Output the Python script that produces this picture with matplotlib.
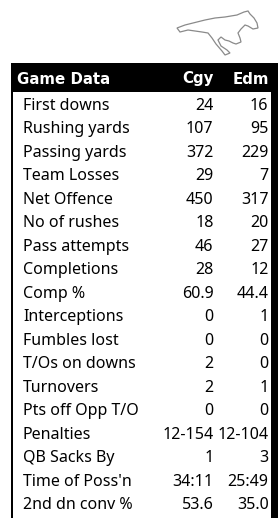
import matplotlib
matplotlib.use("Agg")
from matplotlib import pyplot as plt
from matplotlib.patches import Rectangle, Polygon

# dados do jogo
labels = ["First downs", "Rushing yards", "Passing yards", "Team Losses", "Net Offence",
          "No of rushes", "Pass attempts", "Completions", "Comp %", "Interceptions",
          "Fumbles lost", "T/Os on downs", "Turnovers", "Pts off Opp T/O", "Penalties",
          "QB Sacks By", "Time of Poss'n", "2nd dn conv %"]
cgy = ["24", "107", "372", "29", "450", "18", "46", "28", "60.9", "0",
       "0", "2", "2", "0", "12-154", "1", "34:11", "53.6"]
edm = ["16", "95", "229", "7", "317", "20", "27", "12", "44.4", "1",
       "0", "0", "1", "0", "12-104", "3", "25:49", "35.0"]
header = ["Game Data", "Cgy", "Edm"]

# contorno aproximado do cavalo (logo)
horse = [(177, 28), (185, 25), (193, 23), (205, 20), (215, 18), (225, 17), (237, 15),
         (244, 12), (248, 11), (250, 14), (254, 18), (257, 23), (258, 28), (253, 29),
         (248, 26), (245, 25), (241, 29), (238, 33), (240, 38), (241, 42), (236, 44),
         (233, 43), (229, 41), (225, 40), (221, 37), (218, 40), (221, 46), (227, 50),
         (230, 53), (225, 55), (222, 51), (216, 44), (212, 38), (208, 33), (202, 32),
         (195, 31), (188, 30), (180, 32)]

W, H = 278, 518
fig = plt.figure(figsize=(W / 100, H / 100), dpi=100)
ax = fig.add_axes([0, 0, 1, 1])
ax.set_xlim(0, W)
ax.set_ylim(H, 0)
ax.axis("off")

fs = 16 * 72 / 100
fs_h = 15 * 72 / 100
font = "Noto Sans"

ax.add_patch(Polygon(horse, closed=True, fill=False, edgecolor="#8a8a8a", lw=0.9))

# cabeçalho (negrito em DejaVu, o Noto Sans daqui nao tem bold)
ax.add_patch(Rectangle((11, 63), W - 11, 29, color="black", lw=0))
hb = 83.5
ax.text(17, hb, header[0], color="white", fontsize=fs_h, fontweight="bold",
        family="DejaVu Sans", va="baseline", ha="left")
ax.text(214, hb, header[1], color="white", fontsize=fs_h, fontweight="bold",
        family="DejaVu Sans", va="baseline", ha="right")
ax.text(269, hb, header[2], color="white", fontsize=fs_h, fontweight="bold",
        family="DejaVu Sans", va="baseline", ha="right")

# bordas
ax.add_patch(Rectangle((11, 92), 2.3, H - 92, color="black", lw=0))
ax.add_patch(Rectangle((270.5, 92), W - 270.5, H - 92, color="black", lw=0))

row_h = 23.5
for i, lab in enumerate(labels):
    y = 92 + row_h * (i + 0.5) + 6
    ax.text(23, y, lab, fontsize=fs, family=font, va="baseline", ha="left", color="black")
    ax.text(213.5, y, cgy[i], fontsize=fs, family=font, va="baseline", ha="right", color="black")
    ax.text(268.5, y, edm[i], fontsize=fs, family=font, va="baseline", ha="right", color="black")

fig.savefig("out.png", dpi=100)
